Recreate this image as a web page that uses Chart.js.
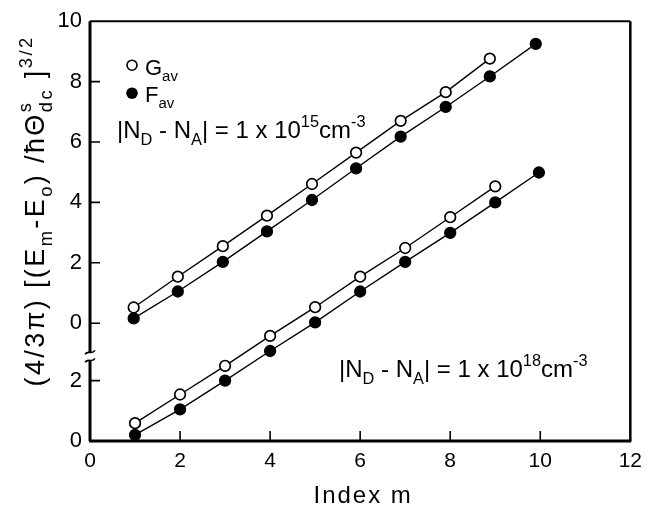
<!DOCTYPE html>
<html lang="en">
<head>
<meta charset="UTF-8">
<title>Index m plot</title>
<script src="https://cdn.jsdelivr.net/npm/chart.js"></script>
<style>
  body { margin: 0; background: #ffffff; }
  #wrap { width: 650px; height: 506px; }
</style>
</head>
<body>
<div id="wrap"><canvas id="plot"></canvas></div>
<script>
// values
const LOWER_OFFSET = 3.9;   // the lower panel's 0 sits at -3.9 on the upper scale
const BREAK_AT = -1.1;      // where the y axis is broken

// |ND-NA| = 1e15 cm^-3 (upper panel)
const g15_m = [0.97, 1.95, 2.95, 3.93, 4.93, 5.91, 6.9, 7.9, 8.88];
const g15   = [0.52, 1.54, 2.55, 3.56, 4.61, 5.65, 6.70, 7.65, 8.76];
const f15_m = [0.97, 1.95, 2.95, 3.93, 4.93, 5.91, 6.9, 7.9, 8.88, 9.9];
const f15   = [0.16, 1.05, 2.03, 3.04, 4.08, 5.13, 6.18, 7.16, 8.17, 9.25];

// |ND-NA| = 1e18 cm^-3 (lower panel)
const g18_m = [1, 2, 3, 4, 5, 6, 7, 8, 9];
const g18   = [0.59, 1.54, 2.49, 3.48, 4.43, 5.44, 6.39, 7.41, 8.43];
const f18_m = [1, 2, 3, 4, 5, 6, 7, 8, 9, 9.97];
const f18   = [0.20, 1.05, 2.00, 2.98, 3.93, 4.95, 5.93, 6.89, 7.90, 8.89];

const xTicks = [0, 2, 4, 6, 8, 10, 12];
const yTicksUpper = [0, 2, 4, 6, 8, 10];
const yTicksLower = [0, 2];

const FONT = '"Liberation Sans", Arial, sans-serif';

const yTickList = yTicksUpper.map(v => ({ value: v, label: String(v) }))
  .concat(yTicksLower.map(v => ({ value: v - LOWER_OFFSET, label: String(v) })));

function pts(xs, ys, shift) {
  return ys.map((v, i) => ({ x: xs[i], y: v - shift }));
}

// draws text made of runs: [text, kind], kind '' | 'sub' | 'sup' | 'supsub' (text = [sup, sub])
function richText(ctx, x, y, parts, size, align, spacing) {
  const small = size * 0.68;
  ctx.letterSpacing = (spacing || 0) + 'px';
  const runs = parts.map(([t, kind]) => {
    let w;
    if (kind === 'supsub') {
      ctx.font = small + 'px ' + FONT;
      w = Math.max(ctx.measureText(t[0]).width, ctx.measureText(t[1]).width);
    } else {
      ctx.font = (kind ? small : size) + 'px ' + FONT;
      w = ctx.measureText(t).width;
    }
    return { t, kind, w };
  });
  const total = runs.reduce((s, r) => s + r.w, 0);
  let cx = align === 'center' ? x - total / 2 : x;
  ctx.textAlign = 'left';
  ctx.textBaseline = 'alphabetic';
  runs.forEach(r => {
    if (r.kind === 'supsub') {
      ctx.font = small + 'px ' + FONT;
      ctx.fillText(r.t[0], cx, y - size * 0.5);
      ctx.fillText(r.t[1], cx, y + size * 0.28);
    } else if (r.kind === 'sub') {
      ctx.font = small + 'px ' + FONT;
      ctx.fillText(r.t, cx, y + size * 0.28);
    } else if (r.kind === 'sup') {
      ctx.font = small + 'px ' + FONT;
      ctx.fillText(r.t, cx, y - size * 0.45);
    } else {
      ctx.font = size + 'px ' + FONT;
      ctx.fillText(r.t, cx, y);
    }
    cx += r.w;
  });
  ctx.letterSpacing = '0px';
}

const frame = {
  id: 'frame',
  beforeDatasetsDraw(chart) {
    const { ctx, chartArea: a, scales } = chart;
    const yb = scales.y.getPixelForValue(BREAK_AT);
    ctx.save();
    ctx.strokeStyle = '#000';
    ctx.lineCap = 'butt';
    ctx.lineWidth = 2;
    ctx.beginPath();
    ctx.moveTo(a.left, a.top); ctx.lineTo(a.right, a.top);
    ctx.stroke();
    ctx.lineWidth = 2.5;
    ctx.beginPath();
    ctx.moveTo(a.right, a.top); ctx.lineTo(a.right, a.bottom);
    ctx.stroke();
    ctx.lineWidth = 3;
    ctx.beginPath();
    ctx.moveTo(a.left - 1, a.bottom); ctx.lineTo(a.right + 1, a.bottom);
    ctx.moveTo(a.left, a.top); ctx.lineTo(a.left, yb - 4);
    ctx.moveTo(a.left, yb + 4); ctx.lineTo(a.left, a.bottom);
    ctx.stroke();
    // break marks
    ctx.lineWidth = 1.6;
    [-4, 4].forEach(d => {
      ctx.beginPath();
      ctx.moveTo(a.left - 5, yb + d + 2);
      ctx.bezierCurveTo(a.left - 2, yb + d - 3, a.left + 2, yb + d + 3, a.left + 5, yb + d - 2);
      ctx.stroke();
    });
    // inward ticks
    ctx.lineWidth = 1.6;
    ctx.beginPath();
    yTickList.forEach(t => {
      const py = scales.y.getPixelForValue(t.value);
      if (Math.abs(py - a.top) < 2) return;
      ctx.moveTo(a.left, py); ctx.lineTo(a.left + 10, py);
    });
    xTicks.forEach(v => {
      const px = scales.x.getPixelForValue(v);
      if (Math.abs(px - a.left) < 2 || Math.abs(px - a.right) < 2) return;
      ctx.moveTo(px, a.bottom); ctx.lineTo(px, a.bottom - 10);
    });
    ctx.stroke();
    ctx.restore();
  },
  afterDraw(chart) {
    const { ctx, chartArea: a } = chart;
    ctx.save();
    ctx.fillStyle = '#000';
    ctx.strokeStyle = '#000';

    // legend
    ctx.lineWidth = 1.6;
    ctx.beginPath();
    ctx.arc(a.left + 42, a.top + 44, 5, 0, Math.PI * 2);
    ctx.fillStyle = '#fff'; ctx.fill();
    ctx.stroke();
    ctx.fillStyle = '#000';
    ctx.beginPath();
    ctx.arc(a.left + 42, a.top + 72, 5.8, 0, Math.PI * 2);
    ctx.fill();
    richText(ctx, a.left + 55, a.top + 54, [['G', ''], ['av', 'sub']], 22);
    richText(ctx, a.left + 55, a.top + 81, [['F', ''], ['av', 'sub']], 22);

    // doping labels
    const dop = exp => [['|N', ''], ['D', 'sub'], [' - N', ''], ['A', 'sub'],
      ['| = 1 x 10', ''], [exp, 'sup'], ['cm', ''], ['-3', 'sup']];
    richText(ctx, a.left + 27, a.top + 117, dop('15'), 24);
    richText(ctx, a.left + 249, a.top + 356, dop('18'), 24);

    // x axis title
    richText(ctx, (a.left + a.right) / 2 + 3, 503, [['Index m', '']], 24, 'center', 2);

    // y axis title
    ctx.translate(44, 211);
    ctx.rotate(-Math.PI / 2);
    richText(ctx, 0, 0, [['(4/3π) [(E', ''], ['m', 'sub'], ['-E', ''], ['o', 'sub'],
      [') /ħΘ', ''], [['s', 'dc'], 'supsub'], [' ]', ''], ['3/2', 'sup']], 27, 'center', 2.4);
    ctx.restore();
  }
};

const ctx = document.getElementById('plot').getContext('2d');

const plot = new Chart(ctx, {
  type: 'scatter',
  data: {
    datasets: [
      { label: 'Gav 1e15', data: pts(g15_m, g15, 0), pointBackgroundColor: '#fff' },
      { label: 'Fav 1e15', data: pts(f15_m, f15, 0), pointBackgroundColor: '#000' },
      { label: 'Gav 1e18', data: pts(g18_m, g18, LOWER_OFFSET), pointBackgroundColor: '#fff' },
      { label: 'Fav 1e18', data: pts(f18_m, f18, LOWER_OFFSET), pointBackgroundColor: '#000' }
    ].map(d => Object.assign({
      showLine: true,
      borderColor: '#000',
      borderWidth: 1.4,
      pointStyle: 'circle',
      pointBorderColor: '#000',
      pointBorderWidth: 1.7,
      pointRadius: 5.3,
      clip: false
    }, d))
  },
  options: {
    responsive: true,
    maintainAspectRatio: false,
    animation: false,
    layout: { padding: { top: 16, right: 9, left: 0, bottom: 0 } },
    plugins: {
      legend: { display: false },
      tooltip: { enabled: false }
    },
    scales: {
      x: {
        type: 'linear',
        min: 0,
        max: 12,
        afterBuildTicks: s => { s.ticks = xTicks.map(v => ({ value: v })); },
        afterFit: s => { s.height = 65; },
        grid: { display: false, drawTicks: false },
        border: { display: false },
        ticks: { color: '#000', padding: 8, font: { family: FONT, size: 21 } }
      },
      y: {
        type: 'linear',
        min: -LOWER_OFFSET,
        max: 10,
        afterBuildTicks: s => { s.ticks = yTickList.map(t => ({ value: t.value })); },
        afterFit: s => { s.width = 90; },
        grid: { display: false, drawTicks: false },
        border: { display: false },
        ticks: {
          color: '#000',
          padding: 8,
          font: { family: FONT, size: 22 },
          callback: value => {
            const t = yTickList.find(t => Math.abs(t.value - value) < 1e-6);
            return t ? t.label : '';
          }
        }
      }
    }
  },
  plugins: [frame]
});
</script>
</body>
</html>
